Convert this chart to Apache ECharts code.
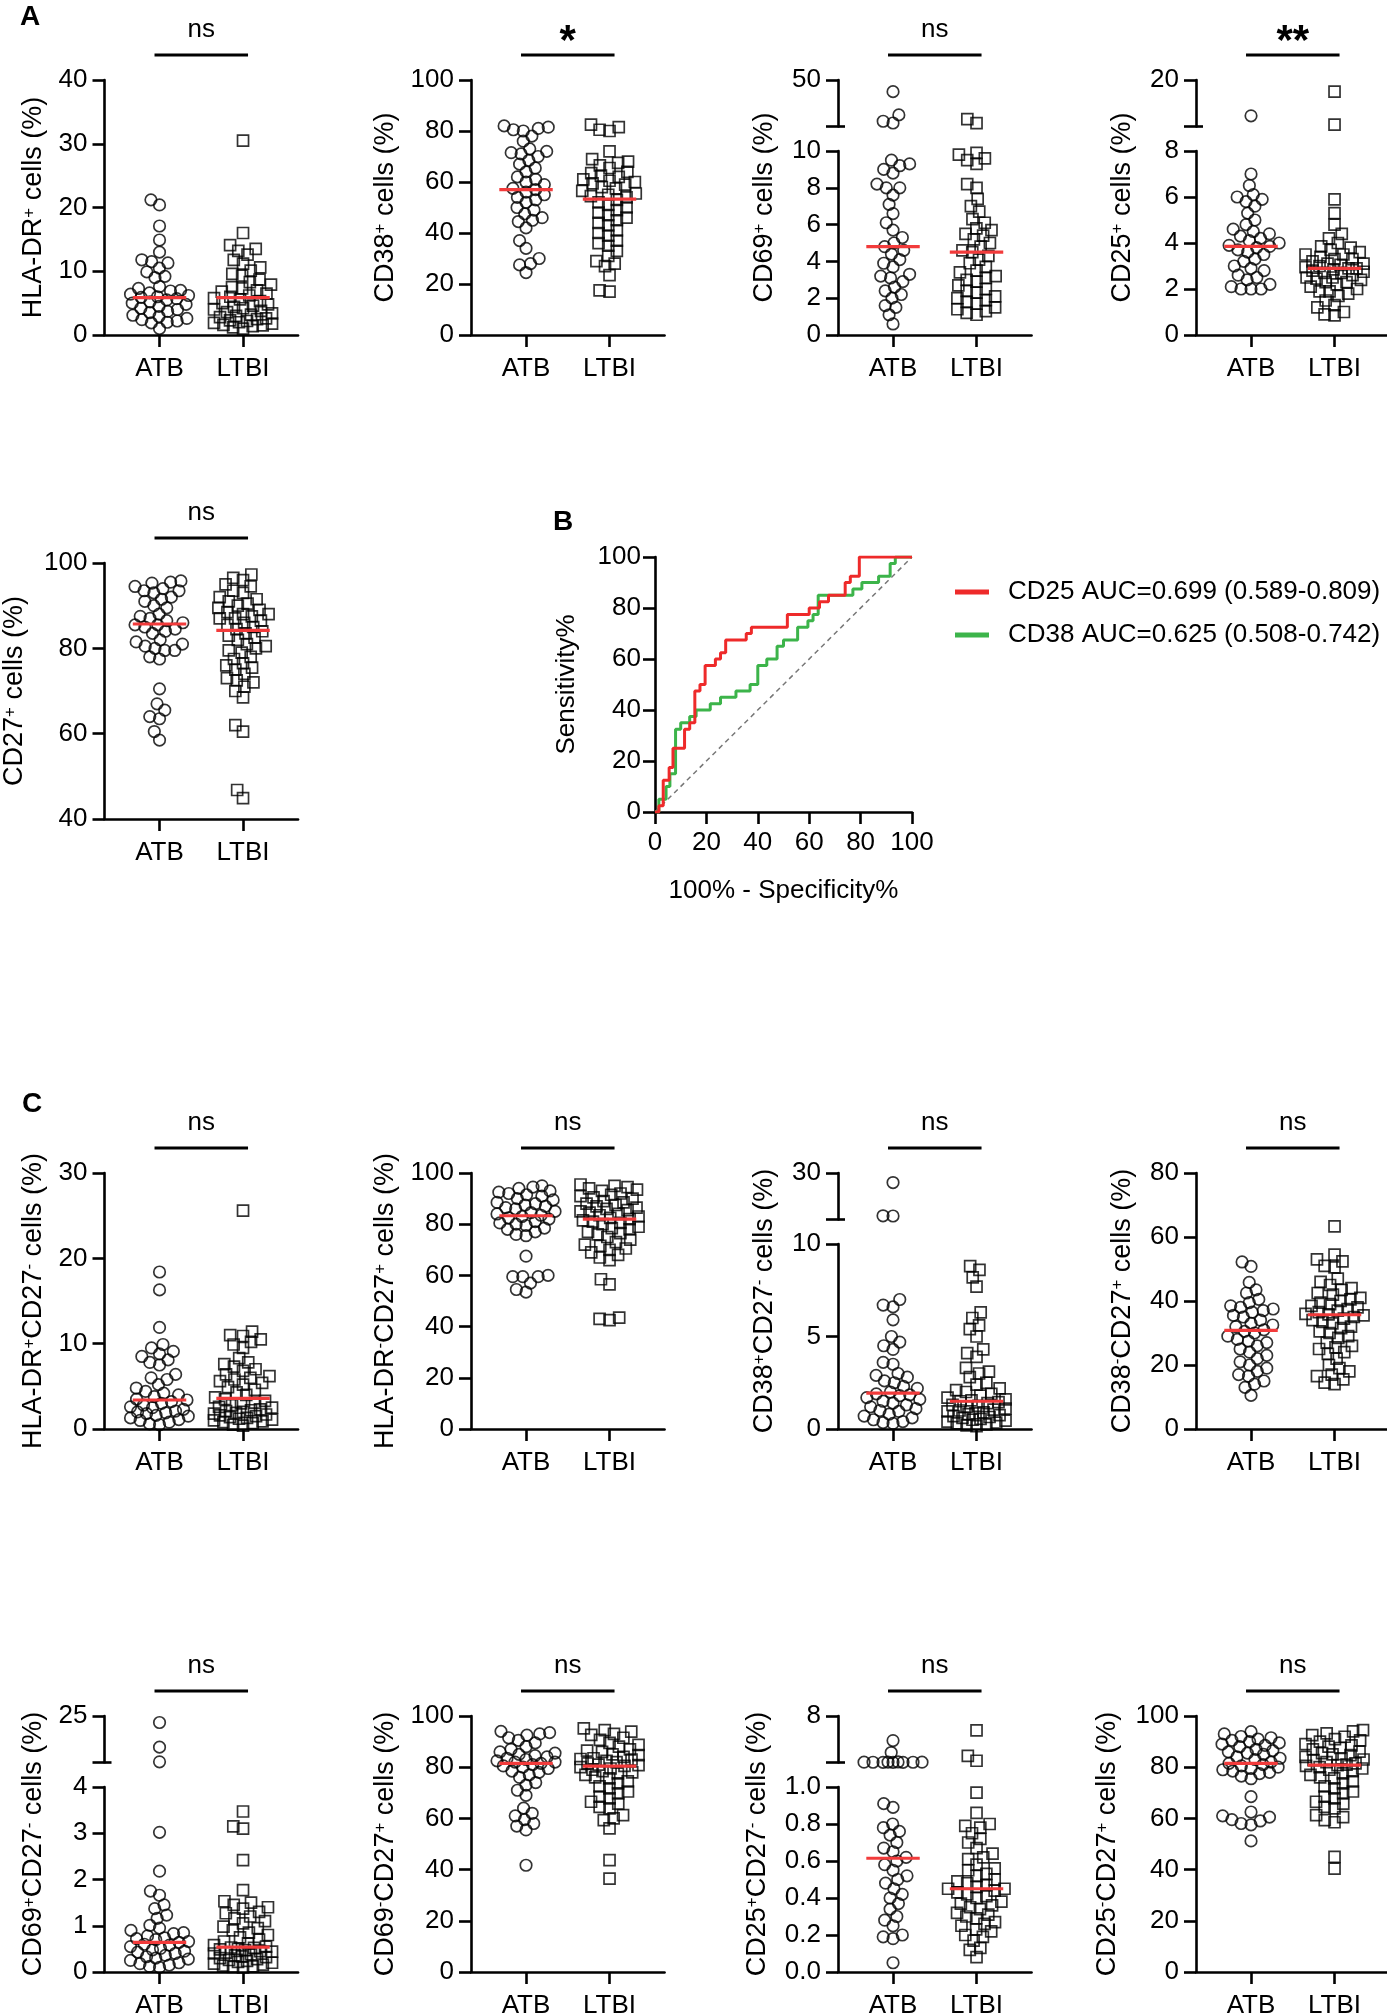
<!DOCTYPE html>
<html><head><meta charset="utf-8">
<script src="https://cdn.jsdelivr.net/npm/echarts@6/dist/echarts.min.js"></script>
<style>html,body{margin:0;padding:0;background:#fff;}#c{width:1387px;height:2015px;}</style>
</head><body><div id="c"></div><script>
const FONT = '"Liberation Sans", Arial, Helvetica, sans-serif';
const groups = ['ATB', 'LTBI'];

// ---------- Panel A ----------
const hladr_atb = [21.2, 20.4, 17.1, 14.9, 13.0, 11.8, 11.5, 11.3, 10.5, 9.9, 9.2, 9.0, 7.6, 7.3, 7.0, 6.9, 6.6, 6.4, 6.2, 6.0, 5.9, 5.7, 5.5, 5.2, 5.0, 4.8, 4.5, 4.2, 4.0, 3.7, 3.5, 3.1, 2.9, 2.6, 2.4, 2.2, 2.0, 1.9, 1.0];
const hladr_ltbi = [30.5, 16.0, 14.1, 13.5, 13.2, 12.6, 11.8, 11.2, 10.6, 10.1, 9.6, 9.3, 8.7, 8.3, 7.9, 7.5, 7.3, 7.0, 6.8, 6.5, 6.2, 6.0, 5.8, 5.6, 5.3, 5.0, 4.8, 4.6, 4.4, 4.2, 4.0, 3.8, 3.6, 3.4, 3.2, 3.0, 2.8, 2.6, 2.5, 2.3, 2.2, 2.0, 1.9, 1.8, 1.6, 1.5, 1.4, 1.2, 1.0];
const hladr_med = [5.86, 5.86];

const cd38_atb = [82, 81.5, 81, 80.5, 80, 78, 76, 73, 72, 71.5, 71, 70, 68.5, 67, 65.5, 64, 62, 61, 60, 59, 57.5, 57, 56, 55, 54, 53, 52, 50, 49, 47.5, 46, 45, 44.5, 42, 37, 34, 30, 28, 27.5, 24.5];
const cd38_ltbi = [82.5, 81.5, 80.5, 80, 72, 69, 68, 67.5, 66.5, 65.5, 64, 63.5, 62.5, 62, 61, 60.5, 60, 59.5, 59, 58, 57.5, 56.5, 55.5, 55, 54.5, 54, 53, 52, 51, 50, 49, 48, 47, 46, 45, 44, 43, 41, 40, 39, 37, 36, 35, 33, 31, 29, 28, 27, 23.5, 17.5, 17];
const cd38_med = [57.0, 53.3];

const cd69_atb = [40, 20, 14.5, 13, 9.5, 9.3, 9.2, 9.0, 8.8, 8.2, 8.0, 8.0, 7.6, 7.1, 6.6, 6.1, 5.7, 5.3, 5.0, 4.8, 4.6, 4.4, 4.1, 3.9, 3.7, 3.3, 3.2, 3.1, 2.9, 2.6, 2.4, 2.2, 2.0, 1.6, 1.5, 1.1, 0.6];
const cd69_ltbi = [16.3, 12.9, 9.9, 9.8, 9.6, 9.5, 9.3, 8.2, 8.0, 7.4, 7.0, 6.7, 6.3, 6.1, 5.8, 5.7, 5.5, 5.4, 5.2, 5.0, 4.8, 4.6, 4.5, 4.3, 4.1, 3.9, 3.7, 3.5, 3.4, 3.2, 3.1, 3.0, 2.9, 2.7, 2.5, 2.4, 2.3, 2.1, 2.0, 1.9, 1.8, 1.7, 1.5, 1.4, 1.3, 1.2, 1.1];
const cd69_med = [4.8, 4.5];

const cd25_atb = [12.3, 7.0, 6.5, 6.1, 6.0, 5.9, 5.8, 5.6, 5.3, 5.0, 4.8, 4.6, 4.5, 4.4, 4.3, 4.2, 4.1, 4.0, 3.9, 3.85, 3.8, 3.7, 3.6, 3.5, 3.3, 3.2, 3.0, 2.9, 2.8, 2.6, 2.5, 2.4, 2.2, 2.1, 2.0, 2.0, 2.0];
const cd25_ltbi = [17.5, 10.4, 5.9, 5.3, 4.8, 4.4, 4.2, 4.0, 3.85, 3.8, 3.7, 3.6, 3.5, 3.5, 3.4, 3.3, 3.3, 3.2, 3.1, 3.1, 3.05, 3.0, 2.95, 2.9, 2.9, 2.85, 2.8, 2.75, 2.7, 2.7, 2.6, 2.5, 2.5, 2.45, 2.4, 2.3, 2.3, 2.2, 2.1, 2.0, 1.9, 1.9, 1.8, 1.7, 1.5, 1.3, 1.2, 1.0, 0.9, 0.85];
const cd25_med = [3.85, 2.9];

const cd27_atb = [95.8, 95.5, 95.3, 94.5, 94, 93.5, 93.5, 93, 92, 91.5, 91, 90, 89.5, 88, 87.5, 87, 86.5, 86, 85.5, 85.5, 85, 84.5, 84, 83.5, 82, 81.5, 81, 80.5, 80, 79.5, 79.5, 78, 77.5, 70.5, 67, 65.5, 64, 63.5, 60.5, 58.5];
const cd27_ltbi = [97.3, 96.5, 96, 95, 94.5, 93.5, 93, 92, 91.5, 91, 90.5, 90, 89.5, 89, 88.5, 88, 88, 87.5, 87, 87, 86.5, 86, 85.5, 85, 84.5, 84, 83.5, 83, 82.5, 82, 81, 80.5, 80, 79.5, 79, 78, 77.5, 76.5, 76, 75.5, 75, 74, 73, 72.5, 72, 71, 70, 68.5, 62, 60.5, 46.8, 44.9];
const cd27_med = [85.7, 84.2];

// ---------- Panel B (ROC) ----------
const roc_cd25 = [[0,0],[1.5,0],[1.5,2.5],[3.2,2.5],[3.2,12.5],[5.5,12.5],[5.5,17.5],[7,17.5],[7,25],[11.5,25],[11.5,32.5],[13.5,32.5],[13.5,35],[15.5,35],[15.5,47.5],[17.5,47.5],[17.5,50],[19.5,50],[19.5,57.5],[23.5,57.5],[23.5,60],[25.5,60],[25.5,62.5],[27.5,62.5],[27.5,67.5],[35.5,67.5],[35.5,70],[37.5,70],[37.5,72.5],[51.5,72.5],[51.5,77.5],[60,77.5],[60,80],[64,80],[64,82.5],[67.5,82.5],[67.5,85],[74,85],[74,90],[76,90],[76,92.5],[79.5,92.5],[79.5,100],[100,100]];
const roc_cd38 = [[0,0],[1.5,0],[1.5,5],[4.3,5],[4.3,10],[5.8,10],[5.8,15],[8,15],[8,32.5],[10,32.5],[10,35],[13.5,35],[13.5,37.5],[16,37.5],[16,40],[21.5,40],[21.5,42.5],[25.5,42.5],[25.5,45],[31.5,45],[31.5,47.5],[37,47.5],[37,50],[40,50],[40,57.5],[43.5,57.5],[43.5,60],[47.5,60],[47.5,65],[50,65],[50,67.5],[55.5,67.5],[55.5,72.5],[59.5,72.5],[59.5,75],[61.5,75],[61.5,77.5],[63.5,77.5],[63.5,85],[77,85],[77,87.5],[80.5,87.5],[80.5,90],[87,90],[87,92.5],[91.5,92.5],[91.5,97.5],[93.5,97.5],[93.5,100],[100,100]];
const roc_ref = [[0,0],[100,100]];
const roc_names = ['CD25 AUC=0.699 (0.589-0.809)', 'CD38 AUC=0.625 (0.508-0.742)'];

// ---------- Panel C ----------
const c1_atb = [18.4, 16.3, 11.9, 9.9, 9.5, 9.1, 8.8, 8.5, 8.1, 7.8, 7.5, 6.4, 6.0, 5.8, 5.2, 4.8, 4.4, 4.2, 4.0, 3.8, 3.5, 3.4, 3.2, 3.0, 2.8, 2.6, 2.5, 2.3, 2.1, 2.0, 1.9, 1.8, 1.6, 1.5, 1.3, 1.1, 1.0, 0.8, 0.6, 0.5];
const c1_ltbi = [25.6, 11.4, 11.0, 10.9, 10.5, 10.2, 9.9, 9.5, 8.3, 7.8, 7.6, 7.3, 7.0, 6.8, 6.4, 6.2, 6.0, 5.8, 5.6, 5.4, 5.2, 4.9, 4.6, 4.3, 4.0, 3.7, 3.5, 3.3, 3.1, 3.0, 2.8, 2.6, 2.5, 2.3, 2.2, 2.1, 2.0, 1.9, 1.8, 1.7, 1.6, 1.5, 1.4, 1.3, 1.2, 1.1, 1.0, 0.9, 0.8, 0.7, 0.5, 0.4];
const c1_med = [3.4, 3.6];

const c2_atb = [95, 94.5, 94, 93, 92.5, 92, 91.5, 91, 90, 89.5, 88.5, 88, 87.5, 87, 86.5, 86, 85, 84.5, 84, 83.5, 83, 82.5, 82, 81, 80.5, 80, 79.5, 78.5, 78, 77, 76, 75.5, 67.5, 60, 59.5, 59.5, 59.5, 57, 54.5, 53.5];
const c2_ltbi = [95.5, 95, 94.5, 94, 93.5, 93, 92, 91.5, 91, 90.5, 90, 89, 88.5, 88, 87.5, 87, 86.5, 86, 85.5, 85, 84.5, 84, 83.5, 83, 82.5, 82, 81.5, 81, 80.5, 80, 79, 78.5, 78, 77, 76.5, 76, 75, 74, 73, 72, 71.5, 70.5, 70, 69, 68, 67, 66, 58.5, 56.5, 43.5, 43, 42.5];
const c2_med = [83.3, 82.0];

const c3_atb = [25.9, 11.6, 11.5, 7.0, 6.7, 6.6, 5.9, 5.0, 4.7, 4.5, 4.3, 3.6, 3.5, 3.0, 2.9, 2.8, 2.6, 2.5, 2.3, 2.2, 2.0, 1.9, 1.85, 1.8, 1.7, 1.6, 1.5, 1.4, 1.3, 1.2, 1.1, 1.0, 0.95, 0.8, 0.7, 0.6, 0.5, 0.4, 0.35, 0.3];
const c3_ltbi = [8.8, 8.6, 8.2, 7.7, 6.3, 6.0, 5.6, 5.4, 5.0, 4.3, 4.1, 3.9, 3.3, 3.1, 3.0, 2.8, 2.5, 2.4, 2.2, 2.1, 2.0, 1.9, 1.8, 1.7, 1.6, 1.55, 1.5, 1.45, 1.4, 1.3, 1.25, 1.2, 1.1, 1.05, 1.0, 0.95, 0.9, 0.85, 0.8, 0.75, 0.7, 0.65, 0.6, 0.55, 0.5, 0.45, 0.4, 0.35, 0.3, 0.25, 0.2, 0.15];
const c3_med = [1.94, 1.5];

const c4_atb = [52.2, 50.8, 45.8, 43.5, 42.5, 40.5, 39.5, 38.5, 38, 37.5, 37, 36.5, 35.5, 35, 34, 33, 32.5, 32, 31, 30.5, 30, 29, 28, 27.5, 27, 26, 25, 24, 23, 22, 21, 20, 19, 18, 17, 16.5, 15, 14, 13, 10.5];
const c4_ltbi = [63.3, 54.5, 53, 52.4, 51, 50.5, 47, 46, 45, 44, 43.5, 42.5, 42, 41, 40.5, 40, 39.5, 39, 38.5, 38, 37.5, 37, 36.5, 36, 35.8, 35.5, 35, 34.5, 34, 33.5, 33, 32, 31.5, 30.5, 30, 29, 28.5, 27, 26, 25.5, 25, 24, 23.5, 22, 20, 19, 18, 17, 16.5, 15.5, 14.5, 14];
const c4_med = [30.8, 35.7];

const d1_atb = [22.2, 11.6, 5.3, 3.02, 2.18, 1.75, 1.66, 1.45, 1.37, 1.23, 1.16, 1.01, 0.95, 0.9, 0.85, 0.83, 0.78, 0.74, 0.72, 0.7, 0.66, 0.64, 0.6, 0.58, 0.55, 0.51, 0.48, 0.45, 0.43, 0.4, 0.36, 0.33, 0.3, 0.28, 0.25, 0.2, 0.18, 0.15, 0.12, 0.1];
const d1_ltbi = [3.47, 3.15, 3.1, 2.42, 1.77, 1.53, 1.5, 1.45, 1.4, 1.37, 1.3, 1.27, 1.2, 1.16, 1.1, 1.05, 0.98, 0.95, 0.9, 0.85, 0.8, 0.75, 0.7, 0.66, 0.62, 0.58, 0.55, 0.53, 0.52, 0.5, 0.49, 0.47, 0.45, 0.44, 0.42, 0.4, 0.38, 0.36, 0.34, 0.32, 0.3, 0.28, 0.26, 0.24, 0.22, 0.2, 0.18, 0.16, 0.14, 0.12, 0.11, 0.1];
const d1_med = [0.64, 0.54];

const d2_atb = [94, 93.5, 93, 92.5, 91.5, 90.5, 89.5, 88, 87, 86, 85.5, 85, 84.5, 84, 83.5, 83, 82.5, 82, 82, 81.5, 81, 80.5, 80, 79.5, 78.5, 78, 77, 76, 74, 73, 71, 69, 64, 62, 61, 59.5, 58, 57, 55.5, 41.7];
const d2_ltbi = [95.2, 94.5, 93.9, 93, 92.6, 91.5, 90.7, 89.5, 88.7, 88, 87, 86.5, 86, 85, 84.7, 84, 83.5, 83.2, 83, 82.5, 82, 81.5, 81, 80.8, 80.5, 80, 79.5, 79, 78.5, 78, 77.6, 77, 76, 75.6, 74.5, 73.7, 72.5, 71.7, 70.5, 69.8, 68.5, 67.8, 66.5, 65.8, 64.5, 63.9, 61.3, 60, 59.3, 56.1, 43.7, 36.5];
const d2_med = [81.5, 80.4];

const d3_atb = [4.3, 2.5, 1.08, 1.06, 1.05, 1.05, 1.04, 1.04, 1.03, 1.03, 1.02, 0.91, 0.89, 0.8, 0.78, 0.76, 0.74, 0.7, 0.67, 0.65, 0.62, 0.6, 0.58, 0.55, 0.52, 0.5, 0.48, 0.45, 0.42, 0.4, 0.37, 0.34, 0.3, 0.28, 0.25, 0.2, 0.19, 0.18, 0.05];
const d3_ltbi = [5.85, 2.0, 1.26, 0.97, 0.86, 0.8, 0.79, 0.78, 0.75, 0.72, 0.7, 0.67, 0.64, 0.62, 0.61, 0.58, 0.56, 0.55, 0.53, 0.52, 0.5, 0.49, 0.48, 0.47, 0.46, 0.45, 0.45, 0.44, 0.43, 0.42, 0.41, 0.4, 0.38, 0.37, 0.36, 0.35, 0.34, 0.32, 0.31, 0.3, 0.29, 0.27, 0.26, 0.25, 0.23, 0.22, 0.2, 0.19, 0.17, 0.13, 0.12, 0.08];
const d3_med = [0.615, 0.45];

const d4_atb = [93.9, 93, 92, 91.5, 91, 90.5, 90, 89.5, 89, 88.5, 88, 87, 86.5, 86, 85.5, 85, 84, 83.5, 83, 82, 81.5, 81, 80.5, 80, 79.5, 79, 78.5, 78, 77.5, 76.5, 75.5, 68.5, 62.5, 61, 60.5, 59.5, 59, 58, 57.5, 51.2];
const d4_ltbi = [94.5, 94, 93.2, 92.5, 91.9, 91, 90.5, 90, 89, 88.5, 88, 87.5, 87, 86.1, 85.5, 85, 84.7, 84, 83.5, 83, 82.8, 82, 81.5, 81, 80.8, 80.5, 80, 79.5, 79, 78.5, 77.6, 77, 76, 75.6, 74.5, 73.7, 72.5, 71.7, 70.5, 69.8, 68.5, 67.8, 66.5, 65.8, 64.5, 63.9, 61.3, 60.5, 59.3, 58.5, 45, 40.4];
const d4_med = [81.5, 80.8];

// ---------- layout ----------
const cols = [104.5, 471, 838, 1196];
const rows = [{top: 80, bottom: 335}, {top: 563, bottom: 819}, {top: 1173, bottom: 1429}, {top: 1716, bottom: 1972}];
const X_MIN = 0.341, X_MAX = 2.659, PX_PER_X = 83.5;
const GRID_W = (X_MAX - X_MIN) * PX_PER_X;
const UPPER_H = 46.5, BREAK_GAP = 24.5;
const MED_HALF = 0.32;
const SWARM_D = 10, SWARM_MAX = 29;
const LW = 2.6;
const RED = '#ee2a2a', GREEN = '#3cb44a', MED_RED = '#f23b3b';

const plots = [
  {title: 'HLA-DR{+} cells (%)', atb: hladr_atb, ltbi: hladr_ltbi, med: hladr_med, y: [0, 40, 10], sig: 'ns', col: 0, row: 0, gap: 57},
  {title: 'CD38{+} cells (%)', atb: cd38_atb, ltbi: cd38_ltbi, med: cd38_med, y: [0, 100, 20], sig: '*', col: 1, row: 0, gap: 72},
  {title: 'CD69{+} cells (%)', atb: cd69_atb, ltbi: cd69_ltbi, med: cd69_med, y: [0, 10, 2], upper: [10, 50], sig: 'ns', col: 2, row: 0, gap: 60},
  {title: 'CD25{+} cells (%)', atb: cd25_atb, ltbi: cd25_ltbi, med: cd25_med, y: [0, 8, 2], upper: [10, 20], sig: '**', col: 3, row: 0, gap: 60},
  {title: 'CD27{+} cells (%)', atb: cd27_atb, ltbi: cd27_ltbi, med: cd27_med, y: [40, 100, 20], sig: 'ns', col: 0, row: 1, gap: 76},
  {title: 'HLA-DR{+}CD27{-} cells (%)', atb: c1_atb, ltbi: c1_ltbi, med: c1_med, y: [0, 30, 10], sig: 'ns', col: 0, row: 2, gap: 57},
  {title: 'HLA-DR{-}CD27{+} cells (%)', atb: c2_atb, ltbi: c2_ltbi, med: c2_med, y: [0, 100, 20], sig: 'ns', col: 1, row: 2, gap: 72},
  {title: 'CD38{+}CD27{-} cells (%)', atb: c3_atb, ltbi: c3_ltbi, med: c3_med, y: [0, 10, 5], upper: [10, 30], sig: 'ns', col: 2, row: 2, gap: 60},
  {title: 'CD38{-}CD27{+} cells (%)', atb: c4_atb, ltbi: c4_ltbi, med: c4_med, y: [0, 80, 20], sig: 'ns', col: 3, row: 2, gap: 60},
  {title: 'CD69{+}CD27{-} cells (%)', atb: d1_atb, ltbi: d1_ltbi, med: d1_med, y: [0, 4, 1], upper: [5, 25], sig: 'ns', col: 0, row: 3, gap: 57},
  {title: 'CD69{-}CD27{+} cells (%)', atb: d2_atb, ltbi: d2_ltbi, med: d2_med, y: [0, 100, 20], sig: 'ns', col: 1, row: 3, gap: 72},
  {title: 'CD25{+}CD27{-} cells (%)', atb: d3_atb, ltbi: d3_ltbi, med: d3_med, y: [0, 1, 0.2], upper: [1, 8], sig: 'ns', col: 2, row: 3, gap: 67, dec: 1},
  {title: 'CD25{-}CD27{+} cells (%)', atb: d4_atb, ltbi: d4_ltbi, med: d4_med, y: [0, 100, 20], sig: 'ns', col: 3, row: 3, gap: 75}
];

// ---------- helpers ----------
const option = {animation: false, backgroundColor: '#fff', grid: [], xAxis: [], yAxis: [], series: []};
function pushGrid(r) { option.grid.push(Object.assign({outerBoundsMode: 'none', containLabel: false, show: false}, r)); return option.grid.length - 1; }
function pushX(c) { option.xAxis.push(c); return option.xAxis.length - 1; }
function pushY(c) { option.yAxis.push(c); return option.yAxis.length - 1; }
const lineStyle = {color: '#000', width: LW};
const labelBase = {fontSize: 26, color: '#000', fontFamily: FONT};
const nameStyle = {fontSize: 27, color: '#000', fontFamily: FONT,
  rich: {sup: {fontSize: 17, color: '#000', fontFamily: FONT, verticalAlign: 'top'}}};
function richName(t) { return t.replace(/\{([+-])\}/g, '{sup|$1}'); }

function catX(gi, show) {
  return {gridIndex: gi, type: 'value', min: X_MIN, max: X_MAX, show: show,
    axisLine: {show: true, onZero: false, lineStyle: lineStyle},
    axisTick: {show: true, length: 12, customValues: [1, 2], lineStyle: lineStyle},
    axisLabel: Object.assign({customValues: [1, 2], margin: 21, formatter: v => groups[Math.round(v) - 1]}, labelBase),
    splitLine: {show: false}};
}
function valY(gi, min, max, interval, dec) {
  return {gridIndex: gi, type: 'value', position: 'left', min: min, max: max, interval: interval,
    axisLine: {show: true, onZero: false, lineStyle: lineStyle},
    axisTick: {show: true, length: 12, lineStyle: lineStyle},
    axisLabel: Object.assign({margin: 17, formatter: v => dec ? v.toFixed(dec) : String(Math.round(v))}, labelBase),
    splitLine: {show: false}};
}

// column-scatter layout: offsets in px, capped width (points overlap beyond it)
function swarm(vals, ppu, base, d, maxW) {
  const order = vals.map((v, i) => i).sort((a, b) => vals[a] - vals[b]);
  const placed = [], off = new Array(vals.length).fill(0);
  for (const i of order) {
    const y = (vals[i] - base) * ppu;
    const near = placed.filter(p => Math.abs(p.y - y) < d);
    const cands = [0];
    for (const p of near) { const dx = Math.sqrt(d * d - (p.y - y) * (p.y - y)); cands.push(p.x + dx, p.x - dx); }
    cands.sort((a, b) => Math.abs(a) - Math.abs(b) || a - b);
    let best = null;
    for (const c of cands) {
      if (Math.abs(c) > maxW) break;
      if (near.every(p => (p.x - c) * (p.x - c) + (p.y - y) * (p.y - y) >= d * d - 0.5)) { best = c; break; }
    }
    if (best === null) {
      let score = -1; best = 0;
      for (let c = -maxW; c <= maxW; c += 1) {
        const m = Math.min.apply(null, near.map(p => Math.hypot(p.x - c, p.y - y)));
        if (m > score + 1e-6) { score = m; best = c; }
      }
    }
    placed.push({x: best, y: y}); off[i] = best;
  }
  return off;
}

function addPoints(xi, yi, vals, base, ppu, g) {
  if (!vals.length) return;
  const off = swarm(vals, ppu, base, SWARM_D, SWARM_MAX);
  const data = vals.map((v, i) => [g + 1 + off[i] / PX_PER_X, v]);
  option.series.push({type: 'scatter', xAxisIndex: xi, yAxisIndex: yi, data: data,
    symbol: g === 0 ? 'circle' : 'rect', symbolSize: g === 0 ? 11.5 : 11,
    itemStyle: {color: 'rgba(255,255,255,0)', borderColor: '#000', borderWidth: 1.7},
    clip: false, silent: true, z: 2});
}

const sigInfo = [];
plots.forEach(p => {
  const left = cols[p.col], top = rows[p.row].top, bottom = rows[p.row].bottom;
  const [lo, hi, step] = p.y;
  const lowerTop = p.upper ? top + UPPER_H + BREAK_GAP : top;
  const lowerH = bottom - lowerTop;
  const gL = pushGrid({left: left, top: lowerTop, width: GRID_W, height: lowerH});
  const xL = pushX(catX(gL, true));
  const yLcfg = valY(gL, lo, hi, step, p.dec);
  if (!p.upper) {
    Object.assign(yLcfg, {name: richName(p.title), nameLocation: 'middle', nameGap: p.gap, nameTextStyle: nameStyle});
  }
  const yL = pushY(yLcfg);
  const groupsVals = [p.atb, p.ltbi];
  groupsVals.forEach((vals, g) => {
    const lowVals = p.upper ? vals.filter(v => v <= hi) : vals;
    addPoints(xL, yL, lowVals, lo, lowerH / (hi - lo), g);
    option.series.push({type: 'line', xAxisIndex: xL, yAxisIndex: yL,
      data: [[g + 1 - MED_HALF, p.med[g]], [g + 1 + MED_HALF, p.med[g]]],
      symbol: 'none', lineStyle: {color: MED_RED, width: 3.2}, silent: true, z: 4});
  });
  let sigGrid = gL, sigTop = hi;
  if (p.upper) {
    const [ulo, uhi] = p.upper;
    const gU = pushGrid({left: left, top: top, width: GRID_W, height: UPPER_H});
    const xU = pushX(catX(gU, false));
    const yU = pushY({gridIndex: gU, type: 'value', position: 'left', min: ulo, max: uhi,
      axisLine: {show: true, onZero: false, lineStyle: lineStyle},
      axisTick: {show: true, length: 12, customValues: [ulo, uhi], lineStyle: lineStyle},
      axisLabel: Object.assign({margin: 17, customValues: [uhi]}, labelBase),
      splitLine: {show: false}});
    pushY({gridIndex: gU, type: 'value', position: 'left', offset: 0, min: ulo, max: uhi,
      axisLine: {show: false, onZero: false}, axisLabel: {show: false}, splitLine: {show: false},
      axisTick: {show: true, inside: true, length: 7, customValues: [ulo], lineStyle: lineStyle}});
    groupsVals.forEach((vals, g) => {
      addPoints(xU, yU, vals.filter(v => v > hi), ulo, UPPER_H / (uhi - ulo), g);
    });
    // frame grid carrying the axis title across the whole broken axis
    const gF = pushGrid({left: left, top: top, width: GRID_W, height: bottom - top});
    pushX({gridIndex: gF, type: 'value', show: false, min: 0, max: 1});
    pushY({gridIndex: gF, type: 'value', position: 'left', min: 0, max: 1,
      axisLine: {show: false, onZero: false}, axisTick: {show: false}, axisLabel: {show: false}, splitLine: {show: false},
      name: richName(p.title), nameLocation: 'middle', nameGap: p.gap, nameTextStyle: nameStyle});
    sigGrid = gU; sigTop = uhi;
  }
  sigInfo.push({grid: sigGrid, yTop: sigTop, sig: p.sig});
});

// ---------- ROC ----------
const gR = pushGrid({left: 655, top: 557, width: 257, height: 255});
const xR = pushX({gridIndex: gR, type: 'value', min: 0, max: 100, interval: 20,
  name: '100% - Specificity%', nameLocation: 'middle', nameGap: 66,
  nameTextStyle: {fontSize: 26, color: '#000', fontFamily: FONT},
  axisLine: {show: true, onZero: false, lineStyle: lineStyle},
  axisTick: {show: true, length: 12, lineStyle: lineStyle},
  axisLabel: Object.assign({margin: 18}, labelBase), splitLine: {show: false}});
const yR = pushY({gridIndex: gR, type: 'value', position: 'left', min: 0, max: 100, interval: 20,
  name: 'Sensitivity%', nameLocation: 'middle', nameGap: 75,
  nameTextStyle: {fontSize: 26, color: '#000', fontFamily: FONT},
  axisLine: {show: true, onZero: false, lineStyle: lineStyle},
  axisTick: {show: true, length: 12, lineStyle: lineStyle},
  axisLabel: Object.assign({margin: 14}, labelBase), splitLine: {show: false}});
option.series.push({type: 'line', name: 'ref', xAxisIndex: xR, yAxisIndex: yR, data: roc_ref, symbol: 'none',
  lineStyle: {color: '#777', width: 1.5, type: [5, 4]}, silent: true, z: 1});
option.series.push({type: 'line', name: roc_names[1], xAxisIndex: xR, yAxisIndex: yR, data: roc_cd38, symbol: 'none',
  itemStyle: {color: GREEN}, lineStyle: {color: GREEN, width: 3}, silent: true, z: 2});
option.series.push({type: 'line', name: roc_names[0], xAxisIndex: xR, yAxisIndex: yR, data: roc_cd25, symbol: 'none',
  itemStyle: {color: RED}, lineStyle: {color: RED, width: 3}, silent: true, z: 3});
option.legend = {data: roc_names, orient: 'vertical', left: 950, top: 572, itemWidth: 34, itemHeight: 5,
  icon: 'rect', itemGap: 13, selectedMode: false,
  textStyle: {fontSize: 26, color: '#000', fontFamily: FONT, lineHeight: 30, padding: [0, 0, 0, 14]}};

const chart = echarts.init(document.getElementById('c'), null, {renderer: 'canvas'});
chart.setOption(option);

// ---------- annotations (significance bars, panel letters) ----------
const gfx = [];
sigInfo.forEach(s => {
  const a = chart.convertToPixel({gridIndex: s.grid}, [1 - 0.06, s.yTop]);
  const b = chart.convertToPixel({gridIndex: s.grid}, [2 + 0.06, s.yTop]);
  gfx.push({type: 'line', shape: {x1: a[0], y1: a[1] - 25, x2: b[0], y2: b[1] - 25},
    style: {stroke: '#000', lineWidth: 3}, silent: true});
  const star = s.sig !== 'ns';
  gfx.push({type: 'text', x: (a[0] + b[0]) / 2, y: a[1] - (star ? 38 : 50), silent: true,
    style: {text: s.sig, fontSize: star ? 42 : 26, fontWeight: star ? 'bold' : 'normal', fontFamily: FONT,
      fill: '#000', align: 'center', verticalAlign: 'middle'}});
});
[['A', 30, 17], ['B', 563, 522], ['C', 32, 1104]].forEach(l => {
  gfx.push({type: 'text', x: l[1], y: l[2], silent: true,
    style: {text: l[0], fontSize: 28, fontWeight: 'bold', fontFamily: FONT, fill: '#000', align: 'center', verticalAlign: 'middle'}});
});
chart.setOption({graphic: gfx});
</script></body></html>
